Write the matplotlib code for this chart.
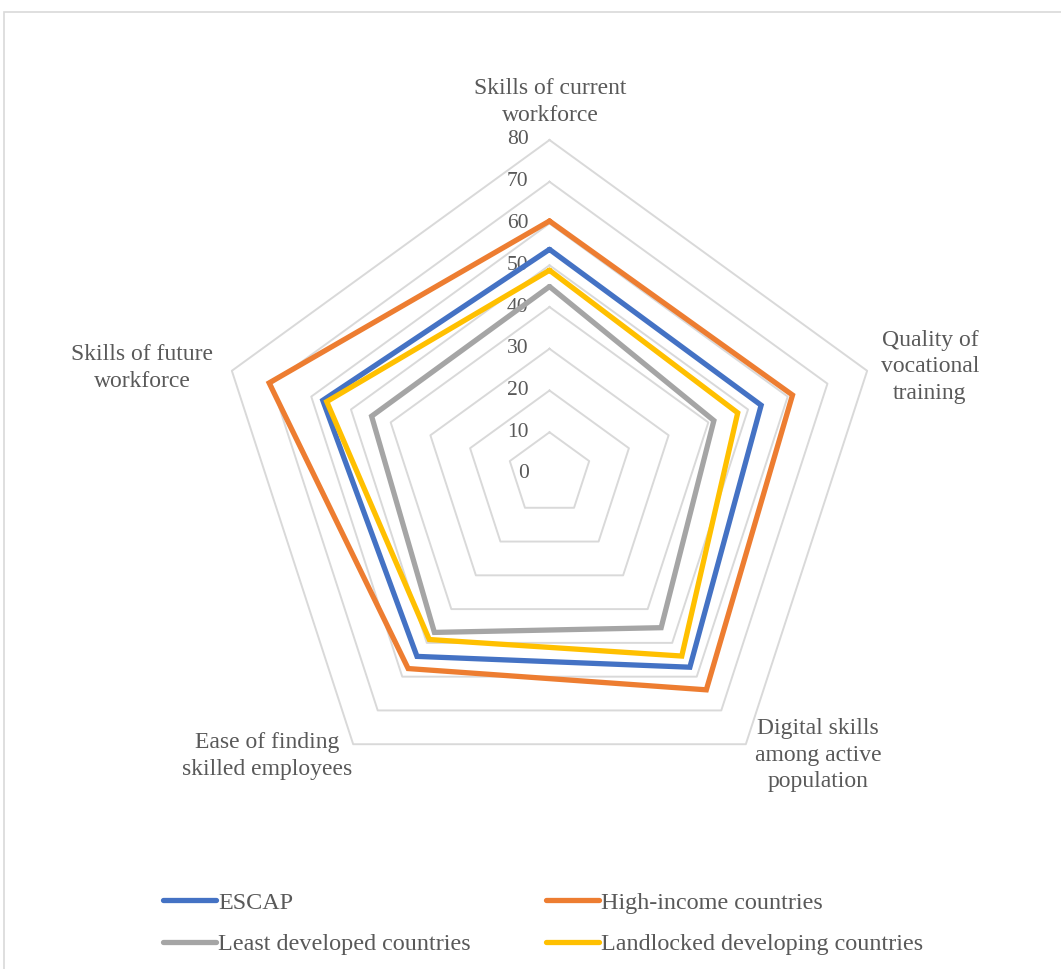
import numpy as np
import matplotlib.pyplot as plt
from matplotlib.patches import Rectangle

# categories in clockwise order starting from the top
categories = ["Skills of current\nworkforce",
              "Quality of\nvocational\ntraining",
              "Digital skills\namong active\npopulation",
              "Ease of finding\nskilled employees",
              "Skills of future\nworkforce"]
series_names = ["ESCAP", "High-income countries",
                "Least developed countries", "Landlocked developing countries"]
escap = [53.8, 53.3, 57.2, 54.0, 57.1]
high_income = [60.6, 61.2, 63.9, 57.6, 70.6]
least_developed = [44.9, 41.4, 45.5, 46.9, 44.8]
landlocked = [48.8, 47.4, 53.9, 49.0, 56.1]
ring_values = [0, 10, 20, 30, 40, 50, 60, 70, 80]

colors = ["#4472C4", "#ED7D31", "#A5A5A5", "#FFC000"]
text_col = "#595959"
grid_col = "#D9D9D9"

plt.rcParams['font.family'] = ['Liberation Serif', 'DejaVu Serif']

W, H = 1061, 969
cx, cy = 549.5, 474.0          # centre in pixels (from top)
scale = 41.75 / 10             # pixels per unit

fig = plt.figure(figsize=(W / 100, H / 100), dpi=100)
ax = fig.add_axes([0, 0, 1, 1])
ax.set_xlim(-cx / scale, (W - cx) / scale)
ax.set_ylim(-(H - cy) / scale, cy / scale)
ax.axis('off')

n = len(categories)
angles = np.deg2rad(90 - 360 / n * np.arange(n))

def polar_xy(vals):
    vals = np.asarray(vals, dtype=float)
    x = vals * np.cos(angles)
    y = vals * np.sin(angles)
    return np.append(x, x[0]), np.append(y, y[0])

# pentagon rings and tick labels
for v in ring_values[1:]:
    x, y = polar_xy([v] * n)
    ax.plot(x, y, color=grid_col, lw=1.4, zorder=1)
for v in ring_values:
    ax.text(-21 / scale, v, str(v), ha='right', va='center',
            fontsize=15.5, color=text_col)

# data series
lines = []
for name, vals, c in zip(series_names,
                         [escap, high_income, least_developed, landlocked],
                         colors):
    x, y = polar_xy(vals)
    ln, = ax.plot(x, y, color=c, lw=3.8, label=name, zorder=3,
                  solid_joinstyle='miter', solid_capstyle='round')
    lines.append(ln)

# category labels, placed beyond the outer ring
label_pos = [(550, 102), (930, 367), (818, 755), (267, 756), (142, 368)]
for lab, (px, py) in zip(categories, label_pos):
    ax.text((px - cx) / scale, (cy - py) / scale, lab, ha='center', va='center',
            fontsize=17, color=text_col, linespacing=1.35)

# chart border
fig.patches.append(Rectangle((4 / W, -0.1), 1.2, 1 - 11.5 / H + 0.1,
                             transform=fig.transFigure, fill=False,
                             edgecolor=grid_col, lw=1.2))

# legend filled row by row
order = [0, 2, 1, 3]
leg = ax.legend([lines[i] for i in order], [series_names[i] for i in order],
                loc='upper left', bbox_to_anchor=(163 / W, 1 - 892 / H),
                ncol=2, frameon=False, fontsize=17.4, handlelength=2.2,
                handletextpad=0.08, columnspacing=3.1, labelspacing=0.8,
                borderaxespad=0, borderpad=0)
for t in leg.get_texts():
    t.set_color(text_col)

fig.savefig("out.png", dpi=100)
